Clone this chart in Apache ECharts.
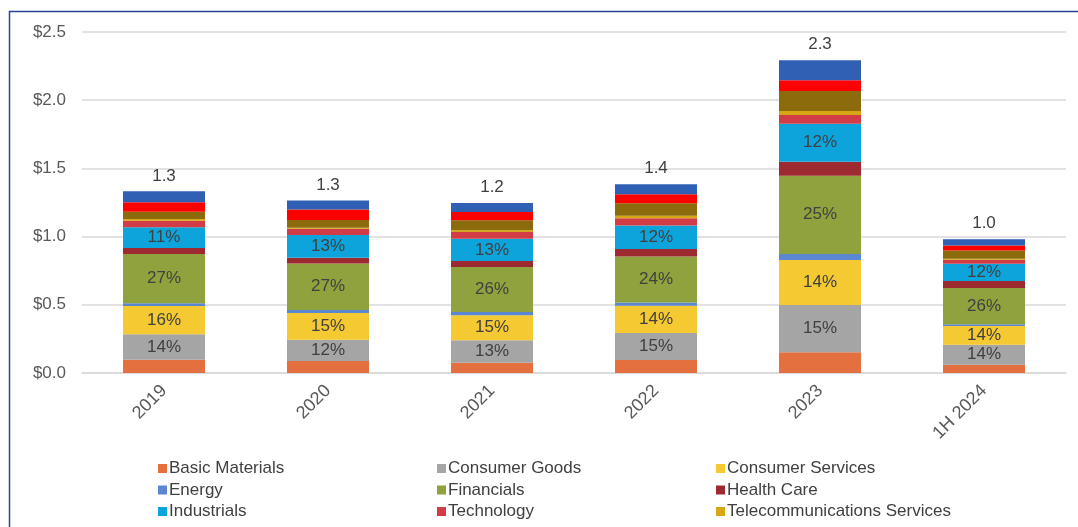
<!DOCTYPE html>
<html>
<head>
<meta charset="utf-8">
<script src="https://cdn.jsdelivr.net/npm/echarts@6/dist/echarts.min.js"></script>
<style>
html,body{margin:0;padding:0;background:#fff;}
#c{width:1078px;height:527px;}
</style>
</head>
<body>
<div id="c"></div>
<script>
const categories = ['2019', '2020', '2021', '2022', '2023', '1H 2024'];
const yTicks = [0, 0.5, 1.0, 1.5, 2.0, 2.5];

const basicMaterials = [0.098, 0.088, 0.076, 0.095, 0.152, 0.061];
const consumerGoods = [0.186, 0.156, 0.164, 0.198, 0.347, 0.147];
const consumerServices = [0.207, 0.195, 0.183, 0.200, 0.330, 0.137];
const energy = [0.020, 0.022, 0.024, 0.024, 0.044, 0.012];
const financials = [0.362, 0.342, 0.330, 0.337, 0.574, 0.266];
const healthCare = [0.044, 0.042, 0.044, 0.056, 0.102, 0.051];
const industrials = [0.151, 0.166, 0.164, 0.171, 0.279, 0.127];
const technology = [0.049, 0.046, 0.049, 0.054, 0.064, 0.029];
const telecom = [0.012, 0.008, 0.012, 0.017, 0.029, 0.007];
const utilities = [0.054, 0.056, 0.073, 0.093, 0.147, 0.061];
const realEstate = [0.068, 0.078, 0.061, 0.066, 0.078, 0.037];
const other = [0.081, 0.066, 0.066, 0.073, 0.147, 0.046];

const pctConsumerGoods = ['14%', '12%', '13%', '15%', '15%', '14%'];
const pctConsumerServices = ['16%', '15%', '15%', '14%', '14%', '14%'];
const pctFinancials = ['27%', '27%', '26%', '24%', '25%', '26%'];
const pctIndustrials = ['11%', '13%', '13%', '12%', '12%', '12%'];

const seriesDefs = [
  ['Basic Materials', basicMaterials, '#E4703F', null],
  ['Consumer Goods', consumerGoods, '#A5A5A5', pctConsumerGoods],
  ['Consumer Services', consumerServices, '#F4C932', pctConsumerServices],
  ['Energy', energy, '#5B87D0', null],
  ['Financials', financials, '#8FA23D', pctFinancials],
  ['Health Care', healthCare, '#9C2A30', null],
  ['Industrials', industrials, '#0DA4DB', pctIndustrials],
  ['Technology', technology, '#D23C46', null],
  ['Telecommunications Services', telecom, '#D6A615', null],
  ['Utilities', utilities, '#8B6B0B', null],
  ['Real Estate', realEstate, '#FF0000', null],
  ['Other', other, '#3060B4', null]
];

const totals = categories.map((_, i) => seriesDefs.reduce((s, d) => s + d[1][i], 0));

const font = '"Liberation Sans", Arial, sans-serif';

const series = seriesDefs.map((d, idx) => {
  const s = {
    name: d[0],
    type: 'bar',
    stack: 'total',
    barWidth: '50%',
    data: d[1],
    itemStyle: { color: d[2] },
    emphasis: { disabled: true }
  };
  if (d[3]) {
    const labels = d[3];
    s.label = {
      show: true,
      position: 'inside',
      formatter: p => labels[p.dataIndex],
      color: '#404040',
      fontSize: 17,
      fontFamily: font
    };
  }
  if (idx === seriesDefs.length - 1) {
    s.label = {
      show: true,
      position: 'top',
      distance: 7,
      formatter: p => totals[p.dataIndex].toFixed(1),
      color: '#404040',
      fontSize: 17,
      fontFamily: font
    };
  }
  return s;
});

const legendCommon = {
  orient: 'vertical',
  top: 455,
  height: 200,
  itemWidth: 9,
  itemHeight: 9,
  itemGap: 4.5,
  icon: 'rect',
  textStyle: { color: '#404040', fontSize: 17, fontFamily: font, lineHeight: 16.5, padding: [0, 0, 0, -3] },
  selectedMode: false
};

const chart = echarts.init(document.getElementById('c'));
chart.setOption({
  animation: false,
  backgroundColor: '#ffffff',
  grid: { left: 82, right: 12, top: 32, bottom: 154 },
  xAxis: {
    type: 'category',
    data: categories,
    axisLine: { show: true, lineStyle: { color: '#D9D9D9', width: 1.5 } },
    axisTick: { show: false },
    axisLabel: { rotate: 45, margin: 15, color: '#595959', fontSize: 18, fontFamily: font }
  },
  yAxis: {
    type: 'value',
    min: 0,
    max: 2.5,
    interval: 0.5,
    axisLine: { show: false },
    axisTick: { show: false },
    splitLine: { lineStyle: { color: '#D9D9D9', width: 1.5 } },
    axisLabel: {
      margin: 16,
      color: '#595959',
      fontSize: 17,
      fontFamily: font,
      formatter: v => {
        const t = yTicks.find(x => Math.abs(x - v) < 1e-9);
        return '$' + (t !== undefined ? t : v).toFixed(1);
      }
    }
  },
  legend: [
    Object.assign({}, legendCommon, { left: 153, data: ['Basic Materials', 'Energy', 'Industrials'] }),
    Object.assign({}, legendCommon, { left: 432, data: ['Consumer Goods', 'Financials', 'Technology'] }),
    Object.assign({}, legendCommon, { left: 711, data: ['Consumer Services', 'Health Care', 'Telecommunications Services'] })
  ],
  graphic: [
    {
      type: 'rect',
      silent: true,
      shape: { x: 9.5, y: 11.5, width: 1200, height: 700 },
      style: { fill: 'none', stroke: '#2B4596', lineWidth: 1.5 }
    }
  ],
  series: series
});
</script>
</body>
</html>
